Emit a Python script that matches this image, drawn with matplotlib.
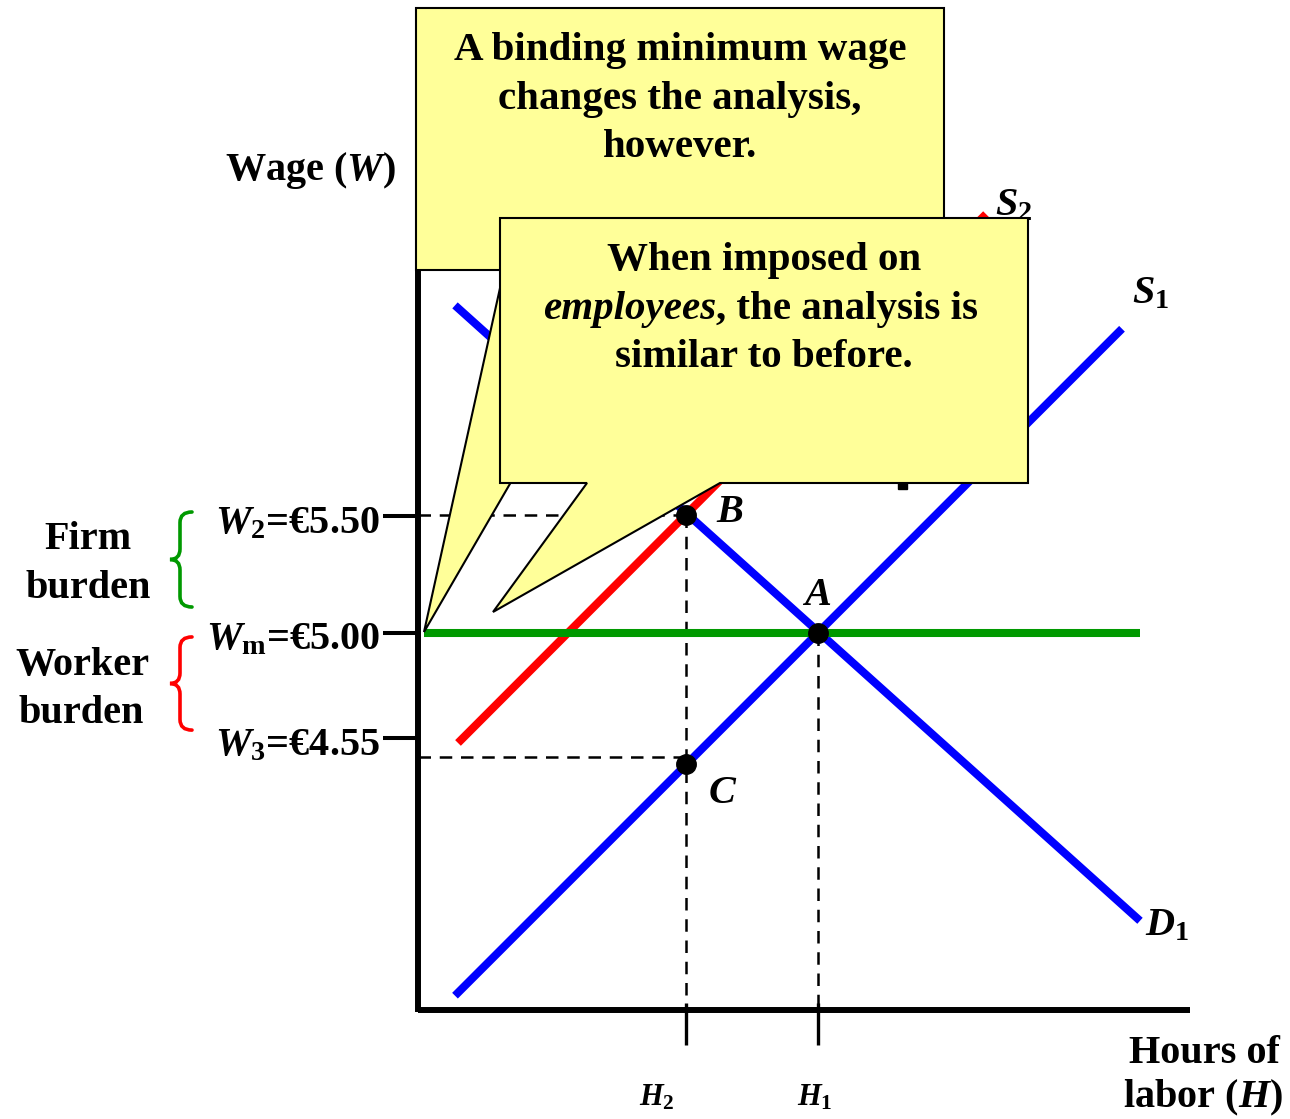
import matplotlib
matplotlib.use("Agg")
import matplotlib.pyplot as plt
from matplotlib.patches import Polygon, PathPatch, Rectangle
from matplotlib.path import Path
from matplotlib.transforms import Affine2D

# ---------------- data (economic units) ----------------
H_ticks = [67, 100]                      # H2, H1
H_tick_labels = [r"$H_2$", r"$H_1$"]
W_ticks = [5.50, 5.00, 4.55]             # W2, Wm, W3
W_tick_labels = [r"$W_2$=€5.50", r"$W_\mathrm{m}$=€5.00", r"$W_3$=€4.55"]

S1_H = [9.25, 176.0]
S1_W = [3.45, 6.30]
D1_H = [9.25, 180.5]
D1_W = [6.40, 3.77]
S2_H = [10.0, 142.0]
S2_W = [4.53, 6.79]
MW_H = [1.5, 180.5]
MW_W = [5.00, 5.00]

pt_names = ["B", "A", "C"]
pt_H = [67, 100, 67]
pt_W = [5.505, 5.00, 4.44]
C_dash_W = 4.47

axis_H = [0, 193]
axis_W0 = 3.389
axis_Wtop = 6.6
tick_bottom_W = 3.239

# ---------------- figure ----------------
FW, FH = 1290, 1119
plt.rcParams['mathtext.fontset'] = 'custom'
plt.rcParams['mathtext.it'] = 'Liberation Serif:italic:bold'
plt.rcParams['mathtext.rm'] = 'Liberation Serif:bold'
plt.rcParams['mathtext.bf'] = 'Liberation Serif:bold'
plt.rcParams['font.family'] = ['Liberation Serif', 'DejaVu Serif']
plt.rcParams['font.weight'] = 'bold'

fig = plt.figure(figsize=(FW / 100, FH / 100), dpi=100)
ax = fig.add_axes([0, 0, 1, 1])
ax.set_xlim(-104.5, 218)
ax.set_ylim(2.923, 7.705)
ax.axis('off')

PX = Affine2D().scale(1 / FW, -1 / FH).translate(0, 1) + fig.transFigure

BLUE, RED, GREEN = '#0000FF', '#FF0000', '#009900'
YEL = '#FFFF99'
LW = 5.8
FS = 29
FSB = 29.5

# curves
ax.plot(S1_H, S1_W, color=BLUE, lw=LW, solid_capstyle='butt', zorder=2)
ax.plot(D1_H, D1_W, color=BLUE, lw=LW, solid_capstyle='butt', zorder=2)
ax.plot(S2_H, S2_W, color=RED, lw=LW, solid_capstyle='butt', zorder=2)
ax.plot(MW_H, MW_W, color=GREEN, lw=LW, solid_capstyle='butt', zorder=2.2)

# dashed guides
dkw = dict(color='black', lw=1.8, dashes=(5, 3.5), zorder=1.5)
ax.plot([0, pt_H[0]], [pt_W[0], pt_W[0]], **dkw)
ax.plot([0, pt_H[2]], [C_dash_W, C_dash_W], **dkw)
ax.plot([pt_H[0], pt_H[0]], [pt_W[0], axis_W0], **dkw)
ax.plot([pt_H[1], pt_H[1]], [pt_W[1], axis_W0], **dkw)

# axes lines
ax.plot([axis_H[0], axis_H[0]], [axis_W0 - 0.01, axis_Wtop], color='black', lw=4.3,
        solid_capstyle='butt', zorder=3)
ax.plot(axis_H, [axis_W0, axis_W0], color='black', lw=4.3, solid_capstyle='butt', zorder=3)

# ticks
for w in W_ticks:
    ax.plot([-8.75, 0], [w, w], color='black', lw=2.9, solid_capstyle='butt', zorder=3)
for h in H_ticks:
    ax.plot([h, h], [axis_W0 + 0.03, tick_bottom_W], color='black', lw=2.4,
            solid_capstyle='butt', zorder=3)

# points
ax.plot(pt_H, pt_W, 'o', color='black', ms=14, zorder=4)

# ---------------- text labels ----------------
def ptext(x, y, s, ha='left', va='baseline', size=FS, z=4, **kw):
    return ax.text(x, y, s, transform=PX, ha=ha, va=va, fontsize=size,
                   fontweight='bold', zorder=z, **kw)

# tick labels
for lab, y in zip(W_tick_labels, [533, 649, 755]):
    ptext(380, y, lab, ha='right')
for lab, x in zip(H_tick_labels, [639, 797]):
    ptext(x, 1105, lab, size=22)

ptext(311, 180, r"Wage ($W$)", ha='center')
ptext(1280, 1063, "Hours of", ha='right')
ptext(1283, 1107, r"labor ($H$)", ha='right')

ptext(88, 549, "Firm", ha='center')
ptext(88, 598, "burden", ha='center')
ptext(82, 675, "Worker", ha='center')
ptext(81, 723, "burden", ha='center')

ptext(817, 605, r"$A$", ha='center')
ptext(716, 522, r"$B$")
ptext(708, 803, r"$C$")
ptext(1132, 303, r"$S_1$")
ptext(1145, 935, r"$D_1$")
ptext(995, 215, r"$S_2$", z=4.5)

# ---------------- braces ----------------
def brace(top, bot, color):
    xr, xm, xl = -56.5, -59.5, -62.0
    r = 0.045
    mid = (top + bot) / 2
    verts = [(xr, top), (xm, top), (xm, top - r),
             (xm, mid + r), (xm, mid), (xl, mid),
             (xm, mid), (xm, mid - r),
             (xm, bot + r), (xm, bot), (xr, bot)]
    codes = [Path.MOVETO, Path.CURVE3, Path.CURVE3,
             Path.LINETO, Path.CURVE3, Path.CURVE3,
             Path.CURVE3, Path.CURVE3,
             Path.LINETO, Path.CURVE3, Path.CURVE3]
    ax.add_patch(PathPatch(Path(verts, codes), fill=False, edgecolor=color,
                           lw=2.6, capstyle='round', zorder=3))

brace(5.517, 5.111, GREEN)
brace(4.983, 4.585, RED)

# small artifact mark below second callout
ax.add_patch(Rectangle((898, 483), 9, 6, transform=PX, color='black', zorder=4))

# ---------------- callouts ----------------
box1 = [(416, 8), (944, 8), (944, 270), (634, 270), (424, 632), (504, 270), (416, 270)]
ax.add_patch(Polygon(box1, closed=True, transform=PX, facecolor=YEL,
                     edgecolor='black', lw=1.5, joinstyle='miter', zorder=5))
for s, y in zip(["A binding minimum wage", "changes the analysis,", "however."],
                [60, 109, 157]):
    ptext(680, y, s, ha='center', z=6, size=FSB)

box2 = [(500, 218), (1028, 218), (1028, 483), (720, 483), (493, 612), (587, 483), (500, 483)]
ax.add_patch(Polygon(box2, closed=True, transform=PX, facecolor=YEL,
                     edgecolor='black', lw=1.5, joinstyle='miter', zorder=7))
ptext(764, 270, "When imposed on", ha='center', z=8, size=FSB)
ptext(716, 319, "employees", ha='right', z=8, style='italic', size=FSB)
ptext(716, 319, ", the analysis is", ha='left', z=8, size=FSB)
ptext(764, 367, "similar to before.", ha='center', z=8, size=FSB)

fig.savefig("out.png", dpi=100)
